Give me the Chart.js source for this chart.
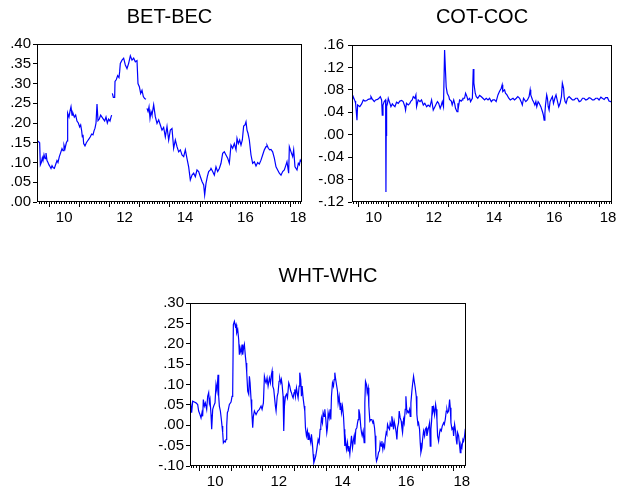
<!DOCTYPE html>
<html><head><meta charset="utf-8">
<script src="https://cdn.jsdelivr.net/npm/chart.js@4.4.1/dist/chart.umd.min.js"></script>
<style>
html,body{margin:0;padding:0;background:#fff;width:621px;height:494px;overflow:hidden;position:relative;}
canvas{position:absolute;}
</style></head><body>
<canvas id="c1" width="339" height="232" style="left:0px;top:0px"></canvas>
<canvas id="c2" width="350" height="232" style="left:307px;top:0px"></canvas>
<canvas id="c3" width="366" height="235" style="left:145px;top:259px"></canvas>
<script>
// ---------- DATA (decimal years) ----------
const xLabelYears = [2010, 2012, 2014, 2016, 2018];
const xLabelText  = ['10', '12', '14', '16', '18'];

const betTicks = [0, 0.05, 0.10, 0.15, 0.20, 0.25, 0.30, 0.35, 0.40];
const cotTicks = [-0.12, -0.08, -0.04, 0, 0.04, 0.08, 0.12, 0.16];
const whtTicks = [-0.10, -0.05, 0, 0.05, 0.10, 0.15, 0.20, 0.25, 0.30];

const betDates = [
2009.600,2009.644,2009.688,2009.710,2009.743,2009.777,2009.799,2009.832,2009.865,2009.898,
2009.931,2009.964,2009.997,2010.030,2010.064,2010.097,2010.130,2010.174,2010.218,2010.262,
2010.295,2010.339,2010.384,2010.428,2010.461,2010.494,2010.527,2010.571,2010.604,2010.615,
2010.660,2010.693,2010.726,2010.759,2010.792,2010.836,2010.880,2010.924,2010.969,2011.013,
2011.046,2011.079,2011.101,2011.123,2011.145,2011.189,2011.234,2011.278,2011.322,2011.366,
2011.410,2011.454,2011.488,2011.521,2011.554,2011.587,2011.620,2011.664,2011.708,2011.752,
2011.797,2011.841,2011.885,2011.929,2011.973,2012.017,2012.050,2012.072,2012.083,2012.095,
2012.128,2012.172,2012.183,2012.227,2012.271,2012.315,2012.337,2012.359,2012.415,2012.470,
2012.525,2012.580,2012.635,2012.691,2012.746,2012.801,2012.856,2012.911,2012.944,2012.989,
2013.033,2013.077,2013.121,2013.165,2013.209,2013.225,2013.242,2013.276,2013.309,2013.342,
2013.375,2013.408,2013.463,2013.518,2013.574,2013.629,2013.684,2013.739,2013.794,2013.849,
2013.905,2013.960,2014.015,2014.070,2014.125,2014.181,2014.236,2014.291,2014.346,2014.401,
2014.457,2014.512,2014.567,2014.622,2014.677,2014.733,2014.788,2014.843,2014.898,2014.953,
2015.009,2015.064,2015.119,2015.152,2015.196,2015.240,2015.284,2015.340,2015.362,2015.417,
2015.472,2015.527,2015.582,2015.638,2015.693,2015.748,2015.803,2015.858,2015.914,2015.969,
2016.024,2016.079,2016.134,2016.190,2016.223,2016.267,2016.311,2016.355,2016.399,2016.443,
2016.487,2016.521,2016.554,2016.587,2016.631,2016.686,2016.741,2016.797,2016.852,2016.907,
2016.962,2017.017,2017.072,2017.128,2017.183,2017.216,2017.260,2017.304,2017.348,2017.403,
2017.459,2017.514,2017.569,2017.624,2017.680,2017.735,2017.790,2017.845,2017.878,2017.933,
2017.956,2018.011,2018.066,2018.099,2018.143,2018.209,2018.253,2018.286,2018.319,2018.370];
const betValues = [
.155,.153,.150,.094,.100,.112,.105,.120,.110,.124,
.105,.100,.094,.090,.085,.092,.087,.085,.095,.105,
.100,.115,.125,.135,.130,.144,.135,.150,.155,.225,
.215,.230,.241,.220,.225,.215,.220,.205,.200,.190,
.195,.180,.165,.170,.148,.142,.150,.155,.160,.165,
.172,.170,.180,.187,.200,.248,.206,.210,.220,.215,
.210,.205,.215,.200,.210,.205,.215,.220,null,.275,
.265,.265,.305,.310,.320,.315,.330,.351,.359,.364,
.347,.338,.351,.370,.359,.364,.355,.358,.300,.292,
.275,.283,.267,.262,.260,null,.237,.229,.241,.212,
.229,.220,.246,.216,.199,.208,.195,.182,.189,.165,
.191,.157,.182,.186,.136,.157,.140,.127,.132,.119,
.115,.132,.110,.089,.056,.068,.073,.064,.081,.077,
.064,.052,.043,.018,.047,.064,.077,.081,.085,.077,
.068,.089,.077,.085,.098,.123,.127,.119,.111,.098,
.144,.136,.148,.132,.161,.148,.157,.144,.157,.192,
.195,.203,.182,.174,.157,.119,.098,.102,.091,.100,
.096,.106,.119,.132,.140,.144,.136,.132,.133,.127,
.111,.089,.081,.073,.068,.077,.081,.094,.102,.073,
.140,.127,.115,.132,.089,.081,.098,.094,.106,.100];

const cotDates = [
2009.780,2009.820,2009.880,2009.900,2009.945,2009.967,2010.040,2010.100,2010.155,2010.210,
2010.270,2010.320,2010.380,2010.410,2010.450,2010.520,2010.565,2010.630,2010.675,2010.720,
2010.764,2010.786,2010.810,2010.850,2010.897,2010.908,2010.916,2010.930,2010.960,2010.985,
2011.040,2011.074,2011.120,2011.150,2011.207,2011.260,2011.317,2011.370,2011.430,2011.480,
2011.540,2011.560,2011.590,2011.650,2011.700,2011.740,2011.780,2011.816,2011.870,2011.904,
2011.926,2011.980,2012.040,2012.090,2012.150,2012.200,2012.260,2012.310,2012.370,2012.425,
2012.480,2012.535,2012.590,2012.620,2012.660,2012.710,2012.750,2012.780,2012.820,2012.857,
2012.890,2012.910,2012.945,2013.000,2013.020,2013.080,2013.110,2013.160,2013.190,2013.220,
2013.270,2013.300,2013.320,2013.355,2013.410,2013.440,2013.465,2013.520,2013.555,2013.600,
2013.630,2013.690,2013.720,2013.780,2013.810,2013.830,2013.875,2013.910,2013.960,2014.020,
2014.070,2014.130,2014.185,2014.240,2014.300,2014.350,2014.410,2014.460,2014.520,2014.570,
2014.630,2014.680,2014.740,2014.770,2014.790,2014.850,2014.880,2014.930,2014.990,2015.040,
2015.130,2015.180,2015.240,2015.290,2015.350,2015.400,2015.440,2015.480,2015.555,2015.610,
2015.665,2015.700,2015.720,2015.780,2015.810,2015.855,2015.890,2015.920,2015.965,2016.000,
2016.055,2016.110,2016.140,2016.165,2016.190,2016.210,2016.250,2016.275,2016.300,2016.330,
2016.360,2016.410,2016.440,2016.475,2016.520,2016.560,2016.610,2016.650,2016.695,2016.740,
2016.770,2016.810,2016.830,2016.860,2016.895,2016.940,2016.995,2017.050,2017.105,2017.160,
2017.215,2017.270,2017.330,2017.380,2017.440,2017.490,2017.550,2017.600,2017.660,2017.710,
2017.770,2017.820,2017.880,2017.940,2017.990,2018.050,2018.100,2018.160,2018.210,2018.270,
2018.320,2018.380,2018.420];
const cotValues = [
.060,.068,.060,.056,.026,.053,.050,.055,.062,.060,
.061,.063,.064,.068,.064,.059,.062,.063,.065,.068,
.062,.035,.053,.059,.062,-.102,-.001,.050,.056,.065,
.056,.050,.055,.053,.050,.058,.056,.060,.061,.059,
.050,.044,.056,.053,.056,.060,.062,.068,.065,.071,
.050,.062,.059,.062,.053,.056,.050,.053,.050,.062,
.044,.050,.056,.059,.056,.047,.053,.059,.050,.151,
.109,.085,.074,.068,.063,.060,.053,.062,.056,.047,
.041,.056,.050,.062,.060,.062,.065,.065,.074,.068,
.062,.065,.059,.065,.117,.092,.074,.068,.065,.070,
.068,.065,.062,.065,.062,.065,.059,.062,.062,.059,
.071,.077,.083,.089,.077,.080,.074,.071,.065,.062,
.065,.062,.065,.068,.065,.059,.053,.065,.059,.062,
.068,.080,.071,.062,.059,.053,.059,.050,.059,.056,
.050,.041,.035,.026,.038,.053,.071,.065,.050,.044,
.059,.065,.068,.056,.065,.071,.059,.050,.056,.068,
.092,.083,.068,.059,.056,.065,.068,.065,.062,.062,
.065,.065,.059,.060,.065,.065,.062,.063,.066,.065,
.062,.062,.065,.065,.062,.067,.065,.063,.066,.066,
.060,.059,.058];

const whtDates = [
2009.712,2009.762,2009.794,2009.846,2009.898,2009.951,2009.982,2010.024,2010.056,2010.087,
2010.108,2010.129,2010.161,2010.192,2010.234,2010.265,2010.297,2010.318,2010.339,2010.370,
2010.391,2010.423,2010.454,2010.496,2010.527,2010.559,2010.590,2010.611,2010.632,2010.664,
2010.695,2010.716,2010.737,2010.758,2010.789,2010.821,2010.842,2010.863,2010.884,2010.905,
2010.947,2010.999,2011.031,2011.051,2011.072,2011.104,2011.135,2011.156,2011.177,2011.209,
2011.240,2011.261,2011.282,2011.314,2011.345,2011.366,2011.387,2011.418,2011.450,2011.471,
2011.492,2011.523,2011.555,2011.576,2011.597,2011.628,2011.649,2011.680,2011.701,2011.733,
2011.785,2011.838,2011.890,2011.942,2011.974,2012.016,2012.047,2012.079,2012.100,2012.131,
2012.163,2012.205,2012.236,2012.267,2012.288,2012.309,2012.341,2012.372,2012.393,2012.414,
2012.450,2012.477,2012.508,2012.529,2012.561,2012.582,2012.603,2012.634,2012.655,2012.676,
2012.708,2012.739,2012.771,2012.812,2012.844,2012.875,2012.896,2012.928,2012.949,2012.980,
2013.001,2013.022,2013.054,2013.085,2013.106,2013.137,2013.158,2013.190,2013.211,2013.232,
2013.263,2013.295,2013.316,2013.337,2013.368,2013.399,2013.420,2013.441,2013.473,2013.504,
2013.525,2013.557,2013.578,2013.599,2013.630,2013.661,2013.693,2013.714,2013.735,2013.766,
2013.798,2013.819,2013.840,2013.871,2013.892,2013.924,2013.945,2013.976,2014.007,2014.028,
2014.049,2014.081,2014.112,2014.133,2014.154,2014.186,2014.217,2014.238,2014.259,2014.280,
2014.311,2014.343,2014.364,2014.395,2014.427,2014.448,2014.469,2014.500,2014.532,2014.553,
2014.573,2014.594,2014.626,2014.657,2014.678,2014.699,2014.731,2014.762,2014.783,2014.815,
2014.846,2014.867,2014.888,2014.919,2014.951,2014.972,2014.993,2015.014,2015.045,2015.077,
2015.098,2015.119,2015.150,2015.181,2015.202,2015.223,2015.255,2015.276,2015.307,2015.328,
2015.360,2015.391,2015.422,2015.454,2015.475,2015.506,2015.527,2015.548,2015.569,2015.601,
2015.632,2015.663,2015.684,2015.716,2015.737,2015.768,2015.789,2015.821,2015.842,2015.873,
2015.894,2015.915,2015.947,2015.978,2015.999,2016.030,2016.051,2016.083,2016.104,2016.125,
2016.156,2016.188,2016.209,2016.230,2016.261,2016.282,2016.313,2016.345,2016.366,2016.387,
2016.418,2016.439,2016.471,2016.492,2016.523,2016.544,2016.575,2016.607,2016.628,2016.649,
2016.680,2016.701,2016.733,2016.754,2016.785,2016.817,2016.837,2016.869,2016.890,2016.921,
2016.942,2016.963,2016.995,2017.016,2017.047,2017.079,2017.100,2017.131,2017.152,2017.183,
2017.215,2017.236,2017.257,2017.278,2017.299,2017.320,2017.341,2017.362,2017.393,2017.425,
2017.446,2017.467,2017.487,2017.519,2017.550,2017.571,2017.603,2017.634,2017.676,2017.697,
2017.728,2017.760,2017.781,2017.802,2017.833,2017.865,2017.886,2017.907,2017.938,2017.970,
2017.991,2018.022,2018.053,2018.074,2018.095,2018.116,2018.148,2018.179,2018.200,2018.221,
2018.252,2018.284,2018.305,2018.336,2018.357,2018.378];
const whtValues = [
.067,.031,.059,.057,.055,.051,.035,.026,.018,.031,
.022,.063,.047,.055,.039,.071,.080,.055,.063,.026,
-.010,.039,.047,.055,.100,.084,.124,.071,.047,.035,
.014,-.002,-.018,-.043,-.039,-.041,-.035,-.002,.031,.035,
.051,.057,.071,.080,.247,.255,.243,.247,.227,.235,
.210,.173,.190,.178,.198,.173,.186,.198,.169,.153,
.129,.084,.076,.120,.104,.063,.035,-.006,.022,.035,
.026,.035,.039,.047,.039,.055,.120,.108,.104,.116,
.096,.116,.104,.124,.133,.096,.088,.063,.047,.035,
.071,.080,.108,.116,.104,.112,.100,.071,-.014,.047,
.071,.076,.067,.104,.096,.084,.080,.071,.067,.080,
.088,.071,.092,.076,.067,.096,.129,.112,.071,.096,
.067,.047,.035,-.006,-.026,-.014,-.035,-.018,-.031,-.043,
-.022,-.047,-.071,-.092,-.084,-.075,-.059,-.047,-.035,-.043,
-.010,-.002,.018,.006,.031,.022,.039,.014,-.018,-.006,
.031,.018,.039,.014,.071,.104,.096,.112,.129,.116,
.100,.084,.055,.071,.039,.055,.031,.047,.022,-.010,
-.051,-.035,-.059,-.043,-.063,-.051,-.071,-.043,-.026,-.055,
-.035,-.026,-.047,-.010,-.006,.006,.014,.039,.026,-.006,
-.018,-.026,-.014,-.043,.055,.108,.100,.080,.092,.047,
.010,.014,.014,.006,.010,-.006,-.026,-.075,-.088,-.080,
-.067,-.063,-.043,-.051,-.039,-.059,-.047,-.055,-.035,-.018,
-.022,.002,-.006,-.010,.006,-.002,.022,.006,-.010,.010,
-.002,-.018,-.035,-.006,.006,.035,.018,.010,-.006,-.018,
.014,.006,.039,.071,.031,.035,.031,.039,.022,.055,
.084,.100,.120,.108,.092,.071,.026,.002,.006,-.010,
-.043,-.067,-.055,-.035,-.014,-.026,-.010,-.006,-.026,-.014,
-.002,.006,-.051,-.010,.010,.047,.035,.043,.026,.051,
.039,.014,-.026,-.039,-.018,-.010,-.014,-.002,.006,.002,
.014,.035,.039,.031,.035,.063,.043,.006,-.010,-.006,
-.026,.002,-.014,-.035,-.047,-.018,-.026,-.051,-.067,-.047,
-.055,-.035,-.039,-.026,-.010,.047];

// ---------- RENDERING ----------
const FONT = "'Liberation Sans', Arial, Helvetica, sans-serif";

function fmtY(v) {
  const s = (Math.round(v * 100) / 100).toFixed(2);
  return s.replace(/^(-?)0\./, '$1.');
}

function buildXTicks(min, max) {
  const t = [];
  for (let m = Math.ceil(min * 12 - 1e-9); m / 12 <= max + 1e-9; m++) {
    t.push({ value: m / 12, kind: (m % 12 === 0) ? 'year' : 'month', lbl: '' });
  }
  xLabelYears.forEach((yr, i) => {
    const pos = yr + 0.5;
    if (pos <= max) {
      const tk = t.find(o => Math.abs(o.value - pos) < 1e-6);
      if (tk) tk.lbl = xLabelText[i];
      else t.push({ value: pos, kind: 'text', lbl: xLabelText[i] });
    } else {
      t.push({ value: max - 0.13, kind: 'text', lbl: xLabelText[i] });
    }
  });
  t.sort((a, b) => a.value - b.value);
  return t;
}

const framePlugin = {
  id: 'frame',
  afterDatasetsDraw(chart) {
    const a = chart.chartArea, ctx = chart.ctx;
    ctx.save();
    ctx.strokeStyle = '#000';
    ctx.lineWidth = 1;
    ctx.strokeRect(Math.round(a.left) + 0.5, Math.round(a.top) + 0.5,
                   Math.round(a.right - a.left) - 1, Math.round(a.bottom - a.top) - 1);
    ctx.restore();
  }
};

function makeChart(id, o) {
  const data = o.dates.map((d, i) => ({ x: d, y: o.values[i] }));
  new Chart(document.getElementById(id), {
    type: 'line',
    data: { datasets: [{
      data, borderColor: '#0000ff', borderWidth: 1.2, pointRadius: 0,
      fill: false, tension: 0, spanGaps: false
    }]},
    plugins: [framePlugin],
    options: {
      responsive: false, animation: false, devicePixelRatio: 1,
      layout: { padding: 0 },
      plugins: {
        legend: { display: false }, tooltip: { enabled: false },
        title: {
          display: true, text: o.title, color: '#000',
          font: { family: FONT, size: 20, weight: 'normal', lineHeight: 1.2 },
          padding: { top: o.titleTop, bottom: o.titleBottom }
        }
      },
      scales: {
        x: {
          type: 'linear', position: 'bottom', min: o.xMin, max: o.xMax,
          afterBuildTicks: s => { s.ticks = buildXTicks(o.xMin, o.xMax); },
          afterFit: s => { s.height = o.xAxisH; },
          ticks: {
            autoSkip: false, maxRotation: 0, minRotation: 0, padding: 2,
            color: '#000', font: { family: FONT, size: 15 },
            callback: (v, i, t) => (t[i] && t[i].lbl) ? t[i].lbl : ''
          },
          grid: {
            display: true, drawOnChartArea: false, drawTicks: true, tickLength: 5,
            tickColor: c => (c.tick && c.tick.kind === 'text') ? 'rgba(0,0,0,0)' : '#000',
            tickBorderDash: c => (c.tick && c.tick.kind === 'month') ? [2, 20] : []
          },
          border: { display: false }
        },
        y: {
          type: 'linear', position: 'left', min: o.yTicks[0], max: o.yTicks[o.yTicks.length - 1],
          afterBuildTicks: s => { s.ticks = o.yTicks.map(v => ({ value: v })); },
          afterFit: s => { s.width = o.axisW; },
          ticks: { autoSkip: false, padding: o.yPad, color: '#000',
                   font: { family: FONT, size: 15 }, callback: v => fmtY(v) },
          grid: { display: true, drawOnChartArea: false, drawTicks: true, tickLength: 4, tickColor: '#000' },
          border: { display: false }
        },
        yR: {
          type: 'linear', position: 'right', display: true,
          afterFit: s => { s.width = o.axisW; },
          ticks: { display: false }, grid: { display: false }, border: { display: false }
        }
      }
    }
  });
}

makeChart('c1', { title: 'BET-BEC', dates: betDates, values: betValues,
  xMin: 2009.60, xMax: 2018.375, yTicks: betTicks, axisW: 37, yPad: 2,
  titleTop: 5, titleBottom: 15, xAxisH: 30 });
makeChart('c2', { title: 'COT-COC', dates: cotDates, values: cotValues,
  xMin: 2009.78, xMax: 2018.42, yTicks: cotTicks, axisW: 45, yPad: 4,
  titleTop: 5, titleBottom: 16, xAxisH: 30 });
makeChart('c3', { title: 'WHT-WHC', dates: whtDates, values: whtValues,
  xMin: 2009.71, xMax: 2018.38, yTicks: whtTicks, axisW: 45, yPad: 2,
  titleTop: 5, titleBottom: 15, xAxisH: 28 });
</script>
</body></html>
